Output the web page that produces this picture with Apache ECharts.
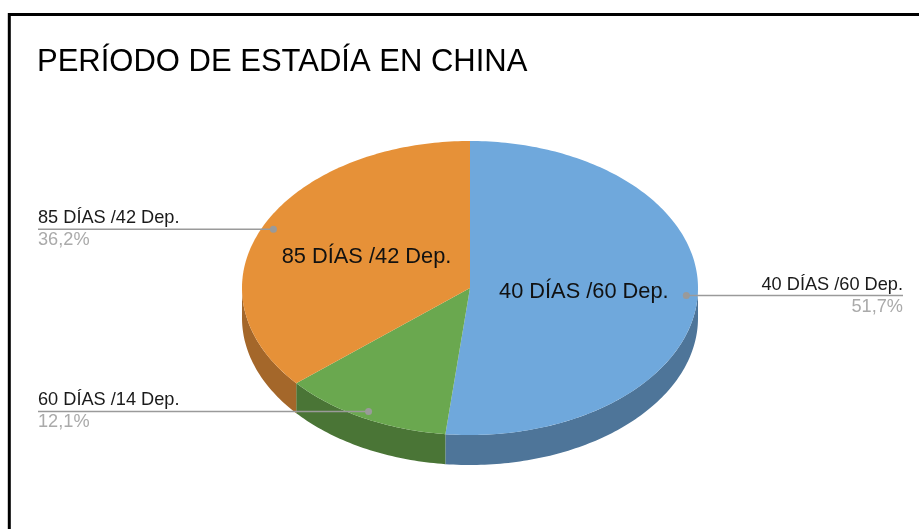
<!DOCTYPE html>
<html>
<head>
<meta charset="utf-8">
<script src="https://cdn.jsdelivr.net/npm/echarts@6/dist/echarts.min.js"></script>
<style>
  html, body { margin: 0; padding: 0; background: #fff; }
  #chart { width: 919px; height: 529px; }
</style>
</head>
<body>
<div id="chart"></div>
<script>
const categories = ['40 DÍAS /60 Dep.', '60 DÍAS /14 Dep.', '85 DÍAS /42 Dep.'];
const deps = [60, 14, 42];
const topColors = ['#6fa8dc', '#6aa84f', '#e69138'];
const sideColors = ['#4e7599', '#4a7536', '#a4672a'];

const total = deps.reduce((a, b) => a + b, 0);

// geometria de la torta "3D"
const CX = 470, CY = 288, RX = 228, RY = 147, DEPTH = 30;
const FONT = '"Liberation Sans", Arial, sans-serif';

function pt(deg, r, dy) {
  const a = deg * Math.PI / 180;
  return [CX + RX * r * Math.sin(a), CY - RY * r * Math.cos(a) + (dy || 0)];
}

function arc(from, to, dy) {
  const pts = [];
  const n = Math.max(2, Math.ceil(Math.abs(to - from)));
  for (let k = 0; k <= n; k++) {
    pts.push(pt(from + (to - from) * k / n, 1, dy));
  }
  return pts;
}

function renderItem(params, api) {
  const i = params.dataIndex;
  const v = api.value(0);
  let start = 0;
  for (let j = 0; j < i; j++) start += deps[j] / total * 360;
  const end = start + v / total * 360;
  const mid = (start + end) / 2;
  const share = v / total;
  const children = [];

  // lateral visible (frente)
  const s = Math.max(start, 90), e = Math.min(end, 270);
  if (s < e) {
    const pts = arc(s, e, 0).concat(arc(e, s, DEPTH));
    children.push({
      type: 'polygon', z2: 0,
      shape: { points: pts },
      style: { fill: sideColors[i] }
    });
  }

  // cara superior
  children.push({
    type: 'polygon', z2: 1,
    shape: { points: [[CX, CY]].concat(arc(start, end, 0)) },
    style: { fill: topColors[i] }
  });

  // etiqueta interior
  if (share > 0.2) {
    const p = pt(mid, 0.5);
    children.push({
      type: 'text', z2: 5,
      style: {
        text: categories[i], x: p[0], y: p[1],
        align: 'center', verticalAlign: 'middle',
        fill: '#111', fontSize: 21.8, fontFamily: FONT
      }
    });
  }

  // etiqueta exterior con linea guia
  const d = pt(mid, 0.95);
  const right = d[0] > CX;
  const edge = right ? 903 : 38;
  const pct = (share * 100).toFixed(1).replace('.', ',') + '%';
  children.push({
    type: 'line', z2: 10,
    shape: { x1: d[0], y1: d[1], x2: edge, y2: d[1] },
    style: { stroke: '#9a9a9a', lineWidth: 1.5 }
  });
  children.push({
    type: 'circle', z2: 11,
    shape: { cx: d[0], cy: d[1], r: 3.5 },
    style: { fill: '#9a9a9a' }
  });
  children.push({
    type: 'text', z2: 10,
    style: {
      text: categories[i], x: edge, y: d[1] - 2,
      align: right ? 'right' : 'left', verticalAlign: 'bottom',
      fill: '#1a1a1a', fontSize: 18.2, fontFamily: FONT
    }
  });
  children.push({
    type: 'text', z2: 10,
    style: {
      text: pct, x: edge, y: d[1] + 2,
      align: right ? 'right' : 'left', verticalAlign: 'top',
      fill: '#aaaaaa', fontSize: 18.2, fontFamily: FONT
    }
  });

  return { type: 'group', children: children };
}

const chart = echarts.init(document.getElementById('chart'));
chart.setOption({
  backgroundColor: '#fff',
  animation: false,
  title: {
    text: 'PERÍODO DE ESTADÍA EN CHINA',
    left: 37,
    top: 47,
    padding: 0,
    textStyle: { fontSize: 31, fontWeight: 'normal', color: '#000', fontFamily: FONT }
  },
  graphic: [
    {
      type: 'rect',
      shape: { x: 9.3, y: 14.5, width: 1000, height: 1000 },
      style: { fill: 'none', stroke: '#000', lineWidth: 3 }
    }
  ],
  series: [
    {
      type: 'custom',
      coordinateSystem: 'none',
      renderItem: renderItem,
      data: deps.map((v, i) => ({ value: [v], name: categories[i] }))
    }
  ]
});
window.addEventListener('resize', () => chart.resize());
</script>
</body>
</html>
